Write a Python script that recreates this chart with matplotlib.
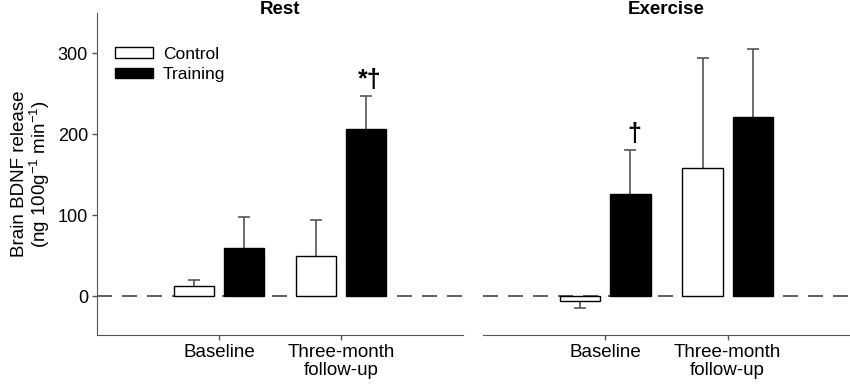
import numpy as np
import matplotlib
matplotlib.use('Agg')
import matplotlib.pyplot as plt
from matplotlib.patches import Patch

plt.rcParams['font.family'] = ['Liberation Sans', 'DejaVu Sans']
plt.rcParams['mathtext.default'] = 'regular'

# data
timepoints = ['Baseline', 'Three-month\nfollow-up']
panels = ['Rest', 'Exercise']

rest_control = [12, 50]
rest_control_err = [8, 44]
rest_training = [59, 207]
rest_training_err = [39, 40]

ex_control = [-6, 158]
ex_control_err = [9, 136]
ex_training = [126, 221]
ex_training_err = [55, 84]

# significance marks above training bars
rest_marks = ['', '*†']
ex_marks = ['†', '']

fig = plt.figure(figsize=(8.5, 3.88), dpi=100)
ax1 = fig.add_axes([0.1141, 0.1366, 0.4306, 0.830])
ax2 = fig.add_axes([0.5682, 0.1366, 0.4318, 0.830])

x = np.array([1, 2])
w = 0.33
off = 0.205
grey = '#555555'


def one_sided_err(ax, xs, vals, errs):
    vals = np.array(vals)
    ends = vals + np.sign(vals) * np.array(errs)
    ax.vlines(xs, vals, ends, color=grey, lw=1.2, zorder=1)
    ax.plot(xs, ends, ls='none', marker='_', ms=9, mew=1.2, color=grey,
            zorder=1)


def draw(ax, ctrl, ctrl_err, trn, trn_err, marks, title):
    ax.axhline(0, color='#444444', lw=1.2, ls=(0, (9, 6)), zorder=0)
    ax.bar(x - off, ctrl, w, color='white', edgecolor='black', lw=1, zorder=2)
    ax.bar(x + off, trn, w, color='black', edgecolor='black', lw=1, zorder=2)
    one_sided_err(ax, x - off, ctrl, ctrl_err)
    one_sided_err(ax, x + off, trn, trn_err)
    for xi, v, e, m in zip(x + off, trn, trn_err, marks):
        if m:
            ax.text(xi + 0.03, v + e + 20, m, ha='center', va='center',
                    fontsize=18, fontweight='bold')
    ax.set_xlim(0, 3)
    ax.set_ylim(-48, 350)
    ax.set_xticks(x)
    ax.set_xticklabels(timepoints, fontsize=13.5, linespacing=1.1)
    ax.tick_params(axis='x', length=3.5, width=1, color=grey, pad=3)
    for s in ['top', 'right']:
        ax.spines[s].set_visible(False)
    ax.spines['bottom'].set_color(grey)
    ax.spines['left'].set_color(grey)
    ax.text(0.5, 1.012, title, transform=ax.transAxes, ha='center',
            va='center', fontsize=13.5, fontweight='bold')


draw(ax1, rest_control, rest_control_err, rest_training, rest_training_err,
     rest_marks, panels[0])
draw(ax2, ex_control, ex_control_err, ex_training, ex_training_err,
     ex_marks, panels[1])

ax1.set_yticks([0, 100, 200, 300])
ax1.tick_params(axis='y', labelsize=13, length=3.5, width=1, color=grey, pad=3)
ax1.set_ylabel('Brain BDNF release\n(ng 100g$^{-1}$ min$^{-1}$)', fontsize=13.5,
               linespacing=1.0, labelpad=4)

ax2.spines['left'].set_visible(False)
ax2.set_yticks([])

handles = [Patch(facecolor='white', edgecolor='black', lw=1, label='Control'),
           Patch(facecolor='black', edgecolor='black', lw=1, label='Training')]
ax1.legend(handles=handles, loc='upper left', bbox_to_anchor=(0.049, 0.895),
           frameon=False, fontsize=12.5, borderpad=0, borderaxespad=0,
           handlelength=2.2, handleheight=0.55, handletextpad=0.55,
           labelspacing=0.3)

fig.savefig('out.png', dpi=100)
